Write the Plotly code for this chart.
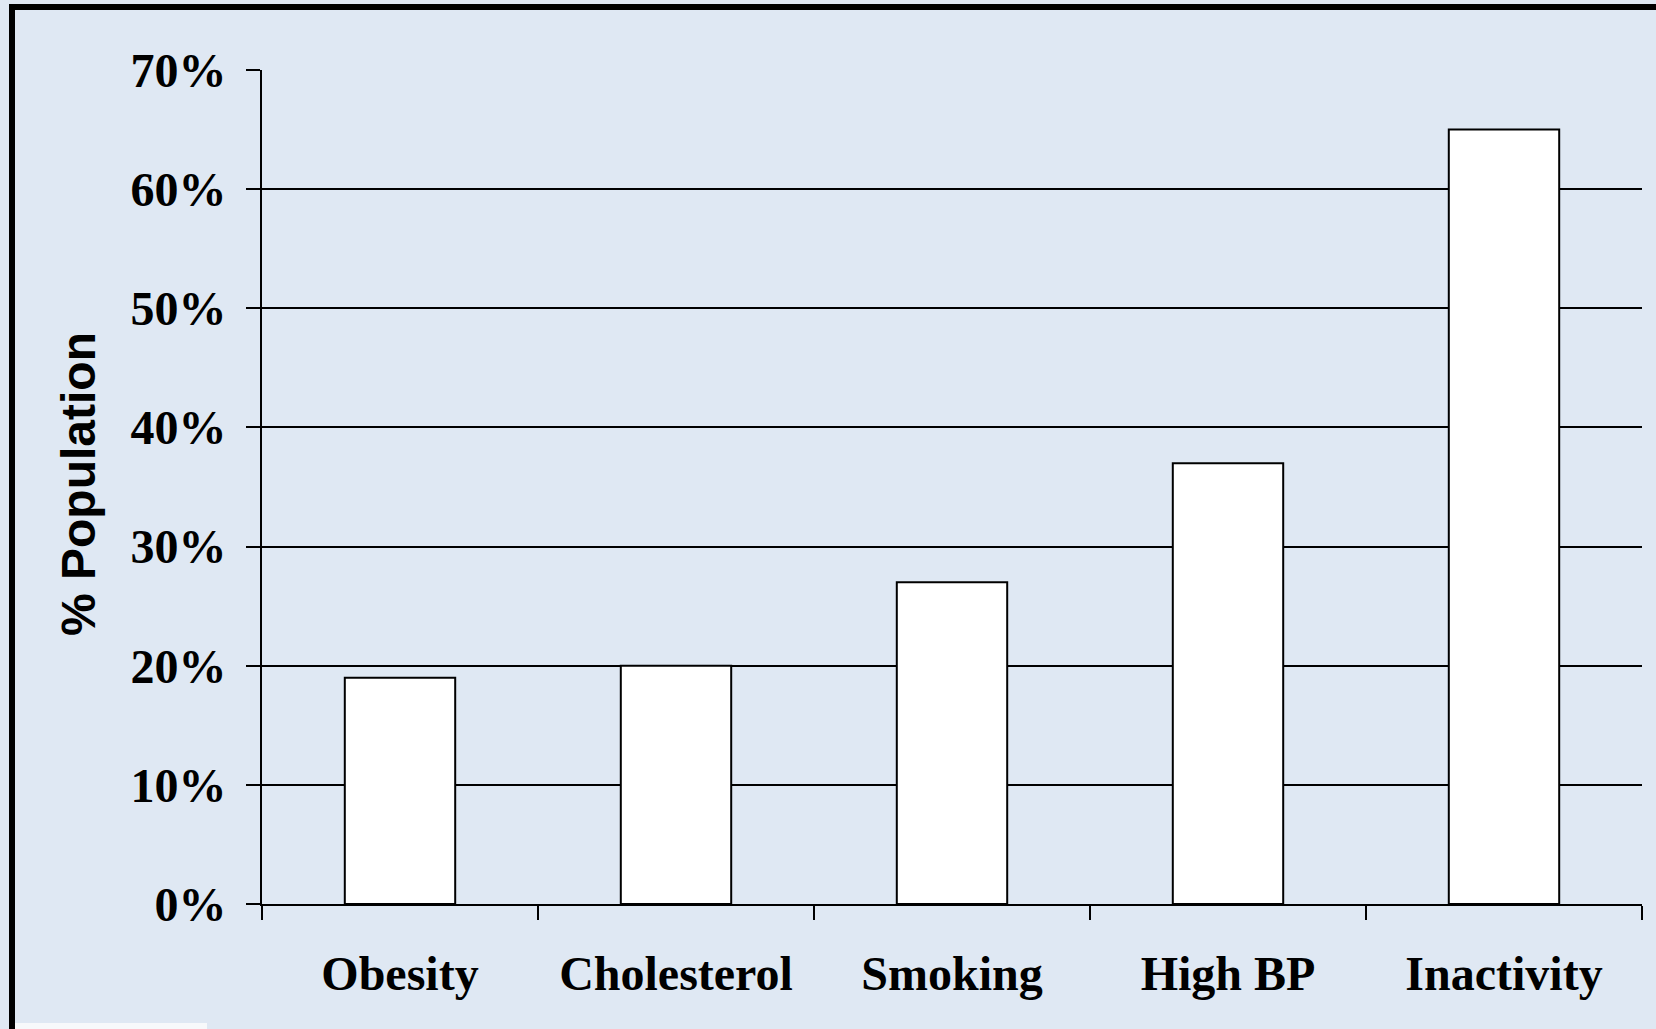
import plotly.graph_objects as go

# Risk factor prevalence (% of population)
categories = ["Obesity", "Cholesterol", "Smoking", "High BP", "Inactivity"]
prevalence = [19, 20, 27, 37, 65]
y_ticks = [0, 10, 20, 30, 40, 50, 60, 70]
y_title = "% Population"

W, H = 1656, 1029
ML, MR, MT, MB = 262, 14, 70, 125
PW, PH = W - ML - MR, H - MT - MB
BG = "#dfe8f3"


def px_x(px):
    return (px - ML) / PW


def px_y(py):
    return (H - MB - py) / PH


serif = dict(family="Liberation Serif, Times New Roman, serif", size=48, color="black", weight="bold")

fig = go.Figure(
    go.Bar(
        x=categories,
        y=prevalence,
        width=0.4,
        marker=dict(color="white", line=dict(color="black", width=2)),
        hoverinfo="x+y",
    )
)

fig.update_layout(
    width=W,
    height=H,
    margin=dict(l=ML, r=MR, t=MT, b=MB),
    paper_bgcolor=BG,
    plot_bgcolor=BG,
    showlegend=False,
    bargap=0.6,
)

fig.update_xaxes(
    type="category",
    showgrid=False,
    showline=True,
    linecolor="black",
    linewidth=2,
    ticks="outside",
    tickson="boundaries",
    ticklen=14,
    tickwidth=2,
    tickcolor="black",
    tickfont=serif,
    ticklabelstandoff=26,
)

fig.update_yaxes(
    range=[0, 70],
    tickvals=y_ticks,
    ticktext=[f"{v}%" for v in y_ticks],
    showgrid=True,
    gridcolor="black",
    gridwidth=2,
    zeroline=False,
    showline=True,
    linecolor="black",
    linewidth=2,
    ticks="outside",
    ticklen=14,
    tickwidth=2,
    tickcolor="black",
    tickfont=serif,
    ticklabelstandoff=10,
)

fig.add_annotation(
    text=y_title,
    xref="paper",
    yref="paper",
    x=px_x(78),
    y=px_y(484),
    showarrow=False,
    textangle=-90,
    xanchor="center",
    yanchor="middle",
    font=dict(family="Liberation Sans, Arial, sans-serif", size=48, color="black", weight="bold"),
)

# Slide frame: heavy left and top rules
fig.add_shape(type="line", xref="paper", yref="paper",
              x0=px_x(12), x1=px_x(12), y0=px_y(4), y1=px_y(H),
              line=dict(color="black", width=6), layer="above")
fig.add_shape(type="line", xref="paper", yref="paper",
              x0=px_x(9), x1=px_x(W), y0=px_y(7), y1=px_y(7),
              line=dict(color="black", width=6), layer="above")
fig.add_shape(type="rect", xref="paper", yref="paper",
              x0=px_x(15), x1=px_x(207), y0=px_y(1023), y1=px_y(H),
              fillcolor="#f7f9fb", line=dict(width=0), layer="above")

fig.write_html("out.html")
